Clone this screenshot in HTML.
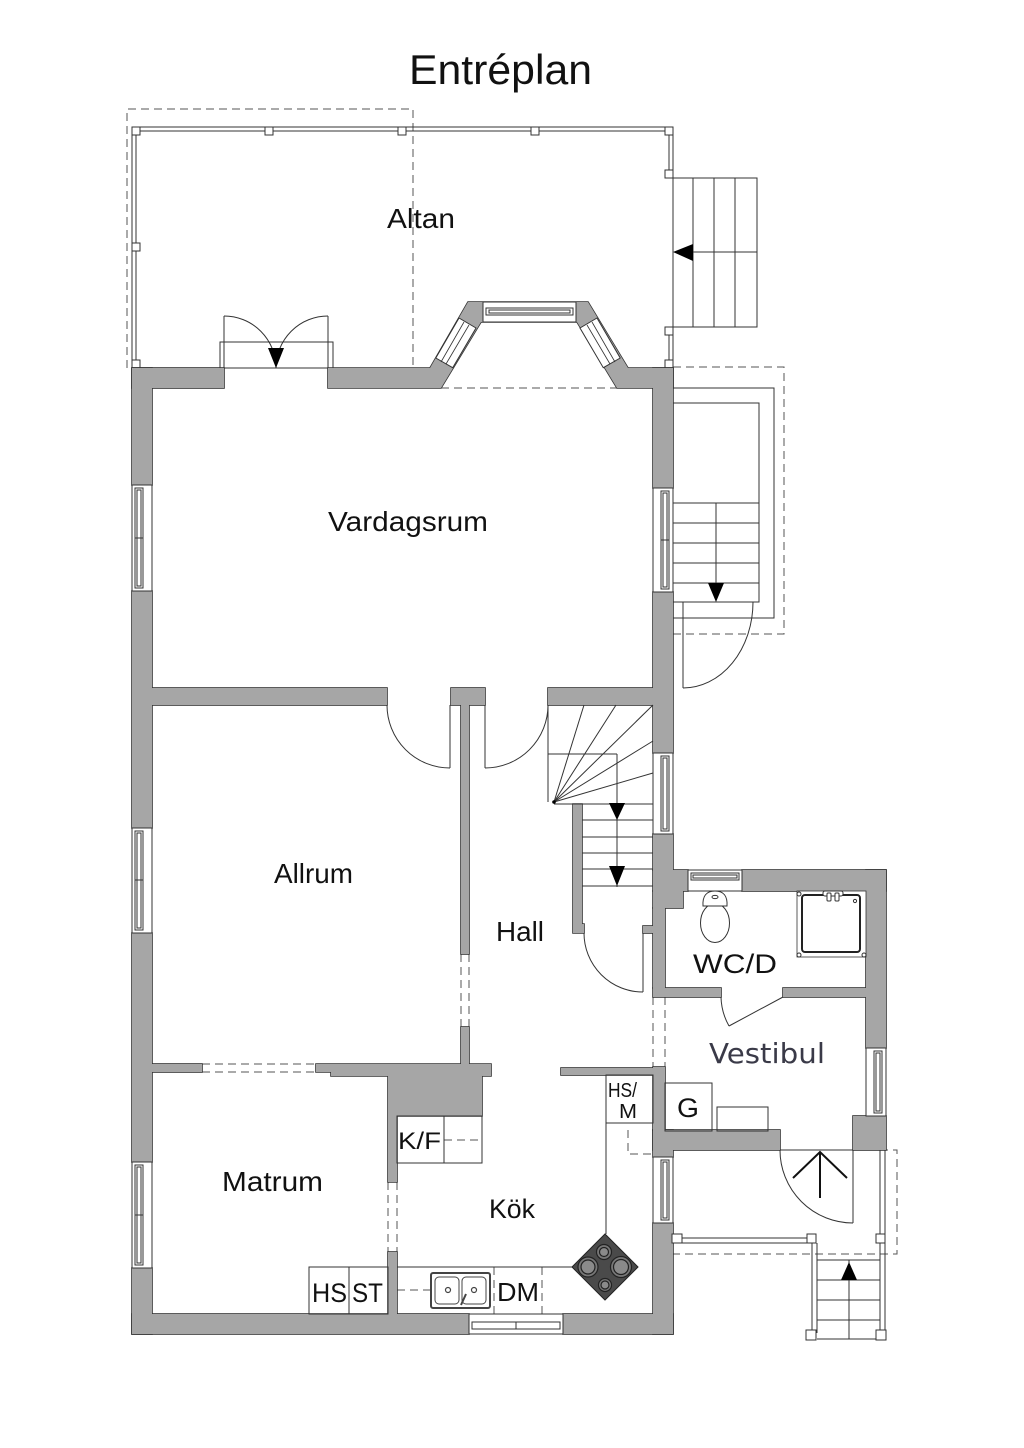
<!DOCTYPE html>
<html><head><meta charset="utf-8">
<style>
html,body{margin:0;padding:0;background:#fff;}
svg{display:block;}
</style></head><body>
<svg width="1024" height="1448" viewBox="0 0 1024 1448" xmlns="http://www.w3.org/2000/svg">
<rect x="0" y="0" width="1024" height="1448" fill="#fff"/>

<!-- dashed lines -->
<g fill="none" stroke="#555" stroke-width="1" stroke-dasharray="8 5">
  <polyline points="127,368 127,109 413,109 413,368"/>
  <line x1="441" y1="388" x2="617" y2="388"/>
  <polyline points="673,367 784,367 784,634 673,634"/>
  <line x1="461" y1="954" x2="461" y2="1027"/><line x1="469" y1="954" x2="469" y2="1027"/>
  <line x1="202" y1="1064" x2="316" y2="1064"/><line x1="202" y1="1072" x2="316" y2="1072"/>
  <line x1="388" y1="1182" x2="388" y2="1252"/><line x1="397" y1="1182" x2="397" y2="1252"/>
  <line x1="653" y1="997" x2="653" y2="1067"/><line x1="665" y1="997" x2="665" y2="1067"/>
  <line x1="444" y1="1140" x2="482" y2="1140"/>
  <line x1="397" y1="1290" x2="431" y2="1290"/>
  <line x1="494" y1="1267" x2="494" y2="1315"/><line x1="542" y1="1267" x2="542" y2="1315"/>
  <polyline points="628,1130 628,1154 653,1154"/>
  <polyline points="672,1254 897,1254 897,1150 885,1150"/>
</g>

<g fill="none" stroke="#333" stroke-width="1">
  <line x1="132" y1="127" x2="673" y2="127"/><line x1="132" y1="131" x2="673" y2="131"/>
  <line x1="132" y1="127" x2="132" y2="368"/><line x1="136" y1="127" x2="136" y2="368"/>
  <line x1="669" y1="127" x2="669" y2="178"/><line x1="673" y1="127" x2="673" y2="178"/>
  <line x1="669" y1="327" x2="669" y2="368"/><line x1="673" y1="327" x2="673" y2="368"/>
</g>
<g fill="#fff" stroke="#333" stroke-width="1">
  <rect x="132" y="127" width="8" height="8"/>
  <rect x="265" y="127" width="8" height="8"/>
  <rect x="398" y="127" width="8" height="8"/>
  <rect x="531" y="127" width="8" height="8"/>
  <rect x="665" y="127" width="8" height="8"/>
  <rect x="132" y="243" width="8" height="8"/>
  <rect x="132" y="360" width="8" height="8"/>
  <rect x="665" y="170" width="8" height="8"/>
  <rect x="665" y="327" width="8" height="8"/>
  <rect x="665" y="360" width="8" height="8"/>
</g>

<!-- Altan stairs -->
<g fill="none" stroke="#333" stroke-width="1">
  <rect x="673" y="178" width="84" height="149"/>
  <line x1="693" y1="178" x2="693" y2="327"/>
  <line x1="714" y1="178" x2="714" y2="327"/>
  <line x1="735" y1="178" x2="735" y2="327"/>
  <line x1="693" y1="252" x2="757" y2="252"/>
</g>
<polygon points="673,252 693,244 693,261" fill="#000"/>

<!-- Altan double door -->
<g fill="none" stroke="#333" stroke-width="1">
  <rect x="220" y="342" width="113" height="26"/>
  <line x1="224" y1="316" x2="224" y2="368"/>
  <line x1="328" y1="316" x2="328" y2="368"/>
  <path d="M224,316 A52,52 0 0 1 276,368"/>
  <path d="M328,316 A52,52 0 0 0 276,368"/>
</g>
<polygon points="268,348 284,348 276,368" fill="#000"/>

<!-- Right stairs near Vardagsrum -->
<g fill="none" stroke="#333" stroke-width="1">
  <rect x="673" y="388" width="101" height="230"/>
  <rect x="673" y="403" width="86" height="199" fill="#fff"/>
  <line x1="673" y1="503" x2="759" y2="503"/>
  <line x1="673" y1="523" x2="759" y2="523"/>
  <line x1="673" y1="543" x2="759" y2="543"/>
  <line x1="673" y1="563" x2="759" y2="563"/>
  <line x1="673" y1="583" x2="759" y2="583"/>
  <line x1="716" y1="503" x2="716" y2="590"/>
  <line x1="683" y1="602" x2="683" y2="688"/>
  <path d="M753,602 A70,86 0 0 1 683,688"/>
</g>
<polygon points="708,583 724,583 716,602" fill="#000"/>

<!-- Walls: stroke layer -->
<g fill="#a6a6a6" stroke="#333" stroke-width="1.6">
  <rect x="132" y="368" width="20" height="117"/>
  <rect x="132" y="591" width="20" height="237"/>
  <rect x="132" y="933" width="20" height="229"/>
  <rect x="132" y="1268" width="20" height="66"/>
  <rect x="132" y="368" width="92" height="20"/>
  <polygon points="328,368 430,368 468,302 588,302 628,368 673,368 673,388 617,388 577,322 481,322 441,388 328,388"/>
  <rect x="653" y="368" width="20" height="120"/>
  <rect x="653" y="592" width="20" height="161"/>
  <rect x="653" y="834" width="20" height="36"/>
  <rect x="653" y="870" width="35" height="21"/>
  <rect x="742" y="870" width="144" height="21"/>
  <rect x="653" y="891" width="30" height="17"/>
  <rect x="653" y="908" width="12" height="80"/>
  <rect x="653" y="988" width="68" height="9"/>
  <rect x="783" y="988" width="83" height="9"/>
  <rect x="866" y="870" width="20" height="178"/>
  <rect x="853" y="1116" width="33" height="34"/>
  <rect x="653" y="1067" width="12" height="63"/>
  <rect x="653" y="1130" width="127" height="20"/>
  <rect x="653" y="1130" width="20" height="27"/>
  <rect x="653" y="1223" width="20" height="111"/>
  <rect x="132" y="1314" width="337" height="20"/>
  <rect x="563" y="1314" width="110" height="20"/>
  <rect x="152" y="688" width="235" height="17"/>
  <rect x="451" y="688" width="34" height="17"/>
  <rect x="548" y="688" width="105" height="17"/>
  <rect x="461" y="705" width="8" height="249"/>
  <rect x="461" y="1027" width="8" height="37"/>
  <polygon points="316,1064 491,1064 491,1076 482,1076 482,1116 397,1116 397,1182 388,1182 388,1076 331,1076 331,1072 316,1072"/>
  <rect x="152" y="1064" width="50" height="8"/>
  <rect x="388" y="1252" width="9" height="62"/>
  <rect x="561" y="1068" width="92" height="7"/>
  <polygon points="573,804 582,804 582,924 584,924 584,933 573,933"/>
  <rect x="643" y="926" width="10" height="7"/>
</g>
<!-- Walls: fill layer -->
<g fill="#a6a6a6" stroke="none">
  <rect x="132" y="368" width="20" height="117"/>
  <rect x="132" y="591" width="20" height="237"/>
  <rect x="132" y="933" width="20" height="229"/>
  <rect x="132" y="1268" width="20" height="66"/>
  <rect x="132" y="368" width="92" height="20"/>
  <polygon points="328,368 430,368 468,302 588,302 628,368 673,368 673,388 617,388 577,322 481,322 441,388 328,388"/>
  <rect x="653" y="368" width="20" height="120"/>
  <rect x="653" y="592" width="20" height="161"/>
  <rect x="653" y="834" width="20" height="36"/>
  <rect x="653" y="870" width="35" height="21"/>
  <rect x="742" y="870" width="144" height="21"/>
  <rect x="653" y="891" width="30" height="17"/>
  <rect x="653" y="908" width="12" height="80"/>
  <rect x="653" y="988" width="68" height="9"/>
  <rect x="783" y="988" width="83" height="9"/>
  <rect x="866" y="870" width="20" height="178"/>
  <rect x="853" y="1116" width="33" height="34"/>
  <rect x="653" y="1067" width="12" height="63"/>
  <rect x="653" y="1130" width="127" height="20"/>
  <rect x="653" y="1130" width="20" height="27"/>
  <rect x="653" y="1223" width="20" height="111"/>
  <rect x="132" y="1314" width="337" height="20"/>
  <rect x="563" y="1314" width="110" height="20"/>
  <rect x="152" y="688" width="235" height="17"/>
  <rect x="451" y="688" width="34" height="17"/>
  <rect x="548" y="688" width="105" height="17"/>
  <rect x="461" y="705" width="8" height="249"/>
  <rect x="461" y="1027" width="8" height="37"/>
  <polygon points="316,1064 491,1064 491,1076 482,1076 482,1116 397,1116 397,1182 388,1182 388,1076 331,1076 331,1072 316,1072"/>
  <rect x="152" y="1064" width="50" height="8"/>
  <rect x="388" y="1252" width="9" height="62"/>
  <rect x="561" y="1068" width="92" height="7"/>
  <polygon points="573,804 582,804 582,924 584,924 584,933 573,933"/>
  <rect x="643" y="926" width="10" height="7"/>
</g>

<!-- Windows -->
<g fill="#fff" stroke="#333" stroke-width="1">
  <rect x="132" y="485" width="20" height="106"/>
  <rect x="135" y="488" width="8" height="100"/><rect x="137" y="490" width="4" height="96"/>
  <line x1="135" y1="538" x2="143" y2="538"/>
  <rect x="132" y="828" width="20" height="105"/>
  <rect x="135" y="831" width="8" height="99"/><rect x="137" y="833" width="4" height="95"/>
  <line x1="135" y1="880" x2="143" y2="880"/>
  <rect x="132" y="1162" width="20" height="106"/>
  <rect x="135" y="1165" width="8" height="100"/><rect x="137" y="1167" width="4" height="96"/>
  <line x1="135" y1="1215" x2="143" y2="1215"/>
  <rect x="653" y="488" width="20" height="104"/>
  <rect x="661" y="491" width="8" height="98"/><rect x="663" y="493" width="4" height="94"/>
  <line x1="661" y1="540" x2="669" y2="540"/>
  <rect x="653" y="753" width="20" height="81"/>
  <rect x="661" y="756" width="8" height="75"/><rect x="663" y="758" width="4" height="71"/>
  <rect x="653" y="1157" width="20" height="66"/>
  <rect x="661" y="1160" width="8" height="60"/><rect x="663" y="1162" width="4" height="56"/>
  <rect x="866" y="1048" width="20" height="68"/>
  <rect x="874" y="1051" width="8" height="62"/><rect x="876" y="1053" width="4" height="58"/>
  <rect x="469" y="1314" width="94" height="20"/>
  <rect x="472" y="1322" width="88" height="7"/><line x1="516" y1="1322" x2="516" y2="1329"/>
  <rect x="688" y="870" width="54" height="21"/>
  <rect x="691" y="873" width="48" height="7"/><rect x="693" y="875" width="44" height="3"/>
  <rect x="483" y="302" width="93" height="20"/>
  <rect x="486" y="308" width="87" height="7"/><rect x="489" y="310" width="81" height="3"/>
  <polygon points="459,318 476,328 452.7,367.7 435.8,358"/>
  <polygon points="597,318 580,328 603.3,367.7 620.2,358"/>
</g>
<g stroke="#333" stroke-width="0.8" fill="none">
  <line x1="464" y1="322" x2="441" y2="362"/>
  <line x1="469" y1="325" x2="446" y2="364"/>
  <line x1="592" y1="322" x2="615" y2="362"/>
  <line x1="587" y1="325" x2="610" y2="364"/>
</g>

<!-- Doors -->
<g fill="none" stroke="#333" stroke-width="1">
  <line x1="450" y1="705" x2="450" y2="768"/>
  <path d="M387,705 A63,63 0 0 0 450,768"/>
  <line x1="485" y1="705" x2="485" y2="768"/>
  <path d="M485,768 A63,63 0 0 0 548,705"/>
  <line x1="643" y1="933" x2="643" y2="992"/>
  <path d="M584,933 A59,59 0 0 0 643,992"/>
  <line x1="783" y1="997" x2="729" y2="1026"/>
  <path d="M721,997 A62,62 0 0 0 729,1026"/>
  <line x1="853" y1="1150" x2="853" y2="1223"/>
  <path d="M780,1150 A73,73 0 0 0 853,1223"/>
  <line x1="780" y1="1150" x2="853" y2="1150"/>
</g>

<!-- Hall stairs -->
<g fill="none" stroke="#333" stroke-width="1">
  <line x1="548" y1="705" x2="548" y2="802"/>
  <line x1="548" y1="754" x2="617" y2="754"/>
  <line x1="617" y1="754" x2="617" y2="887"/>
  <line x1="554" y1="804" x2="653" y2="804"/>
  <line x1="554" y1="802" x2="584" y2="705"/>
  <line x1="554" y1="802" x2="616" y2="705"/>
  <line x1="554" y1="802" x2="653" y2="705"/>
  <line x1="554" y1="802" x2="653" y2="741"/>
  <line x1="554" y1="802" x2="653" y2="773"/>
  <line x1="582" y1="820" x2="653" y2="820"/>
  <line x1="582" y1="837" x2="653" y2="837"/>
  <line x1="582" y1="853" x2="653" y2="853"/>
  <line x1="582" y1="869" x2="653" y2="869"/>
  <line x1="582" y1="886" x2="653" y2="886"/>
</g>
<circle cx="554" cy="802" r="1.8" fill="#000"/>
<polygon points="609,803 625,803 617,820" fill="#000"/>
<polygon points="609,866 625,866 617,886" fill="#000"/>

<!-- WC fixtures -->
<g stroke="#333" stroke-width="1" fill="#fff">
  <ellipse cx="715" cy="923" rx="14.5" ry="19.5"/>
  <path d="M703,906 Q702,891 715,891 Q728,891 727,906 Z"/>
  <ellipse cx="715" cy="897" rx="3" ry="1.6"/>
  <rect x="797" y="891" width="69" height="66" stroke-width="0.8"/>
  <rect x="802" y="895" width="58" height="57" rx="3" stroke="#222" stroke-width="2"/>
  <circle cx="855" cy="901" r="1.6"/>
  <circle cx="799" cy="955" r="2"/><circle cx="864" cy="955" r="2"/>
  <circle cx="799" cy="894" r="2"/>
  <rect x="823" y="891" width="20" height="5" rx="2"/>
  <rect x="827" y="893" width="4" height="8" rx="1"/>
  <rect x="835" y="893" width="4" height="8" rx="1"/>
</g>

<!-- Vestibule boxes -->
<g fill="none" stroke="#333" stroke-width="1">
  <rect x="665" y="1083" width="47" height="48"/>
  <rect x="717" y="1107" width="51" height="24"/>
</g>

<!-- Porch -->
<g fill="none" stroke="#333" stroke-width="1">
  <line x1="682" y1="1238" x2="808" y2="1238"/><line x1="682" y1="1243" x2="808" y2="1243"/>
  <line x1="880" y1="1150" x2="880" y2="1333"/><line x1="885" y1="1150" x2="885" y2="1333"/>
  <line x1="812" y1="1243" x2="812" y2="1333"/><line x1="817" y1="1243" x2="817" y2="1333"/>
  <line x1="817" y1="1260" x2="880" y2="1260"/>
  <line x1="817" y1="1280" x2="880" y2="1280"/>
  <line x1="817" y1="1300" x2="880" y2="1300"/>
  <line x1="817" y1="1320" x2="880" y2="1320"/>
  <line x1="817" y1="1339" x2="880" y2="1339"/>
  <line x1="849" y1="1260" x2="849" y2="1339"/>
</g>
<g fill="#fff" stroke="#333" stroke-width="1">
  <rect x="672" y="1234" width="10" height="9"/>
  <rect x="807" y="1234" width="9" height="9"/>
  <rect x="876" y="1234" width="9" height="9"/>
  <rect x="806" y="1330" width="10" height="10"/>
  <rect x="876" y="1330" width="10" height="10"/>
</g>
<polygon points="841,1280 857,1280 849,1262" fill="#000"/>
<g fill="none" stroke="#111" stroke-width="2">
  <line x1="820" y1="1152" x2="820" y2="1198"/>
  <polyline points="793,1178 820,1152 847,1178"/>
</g>

<!-- Kitchen -->
<g fill="none" stroke="#333" stroke-width="1">
  <rect x="397" y="1116" width="85" height="47"/>
  <line x1="444" y1="1116" x2="444" y2="1163"/>
  <rect x="606" y="1075" width="47" height="48"/>
  <line x1="606" y1="1123" x2="606" y2="1234"/>
  <line x1="397" y1="1267" x2="573" y2="1267"/>
  <rect x="309" y="1267" width="79" height="47"/>
  <line x1="349" y1="1267" x2="349" y2="1314"/>
</g>
<g stroke="#444" fill="#fff">
  <rect x="431" y="1273" width="59" height="35" rx="2" stroke-width="2"/>
  <rect x="435" y="1277" width="24" height="27" rx="4" stroke-width="1"/>
  <rect x="462" y="1277" width="24" height="27" rx="4" stroke-width="1"/>
  <circle cx="448" cy="1290" r="2.5" stroke-width="1.2"/>
  <circle cx="474" cy="1290" r="2.5" stroke-width="1.2"/>
  <line x1="461" y1="1305" x2="466" y2="1294" stroke-width="2"/>
</g>
<polygon points="605,1234 638,1267 605,1300 572,1267" fill="#4a4a4a" stroke="#222" stroke-width="1"/>
<g stroke="#222" stroke-width="1.2">
  <circle cx="604" cy="1252" r="7.5" fill="#777"/>
  <circle cx="604" cy="1252" r="4.5" fill="#8a8a8a"/>
  <circle cx="588" cy="1267" r="10" fill="#777"/>
  <circle cx="588" cy="1267" r="7" fill="#8a8a8a"/>
  <circle cx="621" cy="1267" r="10.5" fill="#777"/>
  <circle cx="621" cy="1267" r="7.5" fill="#8a8a8a"/>
  <circle cx="605" cy="1285" r="6.5" fill="#777"/>
  <circle cx="605" cy="1285" r="4" fill="#8a8a8a"/>
</g>

<!-- Labels -->
<g font-family="'Liberation Sans', sans-serif" fill="#111">
  <text x="409" y="84" font-size="42" textLength="183" lengthAdjust="spacingAndGlyphs">Entréplan</text>
  <text x="387" y="228" font-size="28" textLength="68" lengthAdjust="spacingAndGlyphs">Altan</text>
  <text x="328" y="531" font-size="28" textLength="160" lengthAdjust="spacingAndGlyphs">Vardagsrum</text>
  <text x="274" y="883" font-size="28" textLength="79" lengthAdjust="spacingAndGlyphs">Allrum</text>
  <text x="496" y="941" font-size="28" textLength="48" lengthAdjust="spacingAndGlyphs">Hall</text>
  <text x="693" y="973" font-size="27" textLength="84" lengthAdjust="spacingAndGlyphs">WC/D</text>
  <text x="677" y="1117" font-size="27" textLength="22" lengthAdjust="spacingAndGlyphs">G</text>
  <text x="222" y="1191" font-size="28" textLength="101" lengthAdjust="spacingAndGlyphs">Matrum</text>
  <text x="489" y="1218" font-size="27" textLength="46" lengthAdjust="spacingAndGlyphs">Kök</text>
  <text x="398" y="1149" font-size="24" textLength="43" lengthAdjust="spacingAndGlyphs">K/F</text>
  <text x="608" y="1097" font-size="20" textLength="29" lengthAdjust="spacingAndGlyphs">HS/</text>
  <text x="619" y="1118" font-size="20" textLength="18" lengthAdjust="spacingAndGlyphs">M</text>
  <text x="312" y="1302" font-size="27" textLength="35" lengthAdjust="spacingAndGlyphs">HS</text>
  <text x="352" y="1302" font-size="27" textLength="31" lengthAdjust="spacingAndGlyphs">ST</text>
  <text x="497" y="1301" font-size="26" textLength="42" lengthAdjust="spacingAndGlyphs">DM</text>
</g>
<text x="709" y="1063" font-family="'DejaVu Sans', sans-serif" font-size="28" fill="#3a3a48" textLength="116" lengthAdjust="spacingAndGlyphs">Vestibul</text>
</svg>
</body></html>
